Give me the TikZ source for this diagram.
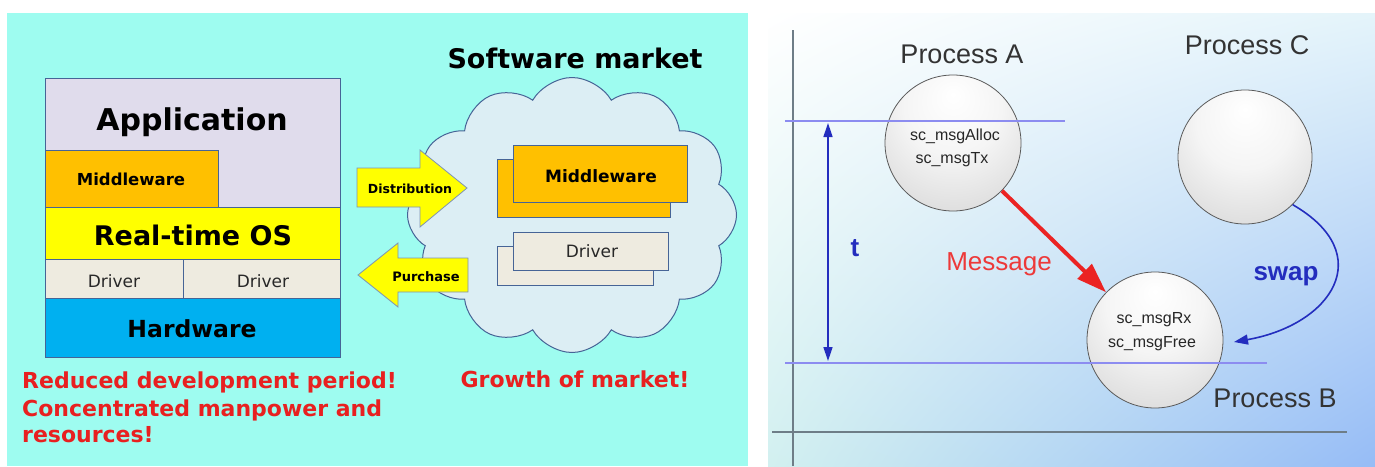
\documentclass[tikz,border=0pt]{standalone}
\usepackage{fontspec}
\usetikzlibrary{shapes.symbols,arrows.meta,shadings}
\newfontfamily\djv{DejaVu Sans}
\newfontfamily\lib{Liberation Sans}
\newcommand\fsz[1]{\fontsize{#1}{#1}\selectfont}
\definecolor{panelcyan}{RGB}{158,252,240}
\definecolor{appcol}{RGB}{224,220,236}
\definecolor{mwcol}{RGB}{255,192,0}
\definecolor{oscol}{RGB}{255,255,0}
\definecolor{drvcol}{RGB}{238,235,224}
\definecolor{hwcol}{RGB}{0,176,240}
\definecolor{edgecol}{RGB}{70,100,150}
\definecolor{cloudfill}{RGB}{220,238,244}
\definecolor{redtxt}{RGB}{232,32,32}
\definecolor{axisgray}{RGB}{110,125,135}
\definecolor{tblue}{RGB}{35,45,190}
\definecolor{lineblue}{RGB}{140,140,240}
\definecolor{msgred}{RGB}{235,35,35}
\definecolor{shul}{RGB}{255,255,255}
\definecolor{shur}{RGB}{228,244,250}
\definecolor{shll}{RGB}{210,240,240}
\definecolor{shlr}{RGB}{150,188,246}
\definecolor{txtgray}{RGB}{40,40,40}
\pgfdeclareradialshading{spheresh}{\pgfpoint{0bp}{18bp}}{color(0bp)=(white);color(18bp)=(white!96!black);color(48bp)=(black!20);color(70bp)=(black!42)}
\begin{document}
\begin{tikzpicture}[x=1pt,y=-1pt,
  lbl/.style={inner sep=0pt, anchor=base},
  stackbox/.style={draw=edgecol, line width=1pt},
  arrowbox/.style={draw=edgecol!70, line width=0.8pt, fill=oscol},
  bigbold/.style={font=\djv\bfseries\fsz{#1}},
  smallreg/.style={font=\djv\fsz{#1}, text=txtgray},
  redline/.style={lbl, anchor=base west, font=\djv\bfseries\fsz{22}, text=redtxt},
  procl/.style={lbl, font=\lib\fsz{27}, text=black!80},
  insidel/.style={lbl, font=\lib\fsz{16}, text=black!85},
  spherenode/.style={circle, draw=black!65, line width=0.8pt, shading=spheresh, minimum size=#1, inner sep=0pt},
  hline/.style={lineblue, line width=1.5pt},
  axisline/.style={axisgray, line width=1.5pt}
]
\useasboundingbox (0,0) rectangle (1375,466);
\fill[white] (0,0) rectangle (1375,466);
% ---------- left panel ----------
\fill[panelcyan] (7,13) rectangle (748,466);
\draw[stackbox, fill=appcol] (45,78) rectangle (340,207);
\draw[stackbox, fill=mwcol] (45,150) rectangle (218,207);
\draw[stackbox, fill=oscol] (45,207) rectangle (340,259);
\draw[stackbox, fill=drvcol] (45,259) rectangle (183,298);
\draw[stackbox, fill=drvcol] (183,259) rectangle (340,298);
\draw[stackbox, fill=hwcol] (45,298) rectangle (340,357);
\node[lbl, bigbold=30] (app) at (192,130) {Application};
\node[lbl, bigbold=16.5] (mw1) at (131,185) {Middleware};
\node[lbl, bigbold=27] (rtos) at (193,245) {Real-time OS};
\node[lbl, smallreg=17] (drv1) at (114,287) {Driver};
\node[lbl, smallreg=17] (drv2) at (263,287) {Driver};
\node[lbl, bigbold=23.5] (hw) at (192,337) {Hardware};
% cloud
\node[cloud, cloud puffs=12, cloud puff arc=120, aspect=1.2, draw=edgecol, line width=1pt, fill=cloudfill, minimum width=329pt, minimum height=275pt, inner sep=0pt] (cloud) at (572,215) {};
\node[lbl, bigbold=27] (swm) at (575,68) {Software market};
\draw[stackbox, fill=mwcol] (497,159) rectangle (670,217);
\draw[stackbox, fill=mwcol] (513,145) rectangle (687,202);
\node[lbl, bigbold=17] (mw2) at (601,182) {Middleware};
\draw[stackbox, fill=drvcol] (497,246) rectangle (653,285);
\draw[stackbox, fill=drvcol] (513,232) rectangle (668,270);
\node[lbl, smallreg=17] (drv3) at (592,257) {Driver};
% arrows
\draw[arrowbox] (357,168) -- (420,168) -- (420,150) -- (467,188) -- (420,227) -- (420,207) -- (357,207) -- cycle;
\node[lbl, bigbold=12.5] (dist) at (410,193) {Distribution};
\draw[arrowbox] (358,275) -- (398,243) -- (398,258) -- (468,258) -- (468,292) -- (398,292) -- (398,307) -- cycle;
\node[lbl, bigbold=13] (purch) at (426,281) {Purchase};
% red texts
\node[redline] (r1) at (22,388) {Reduced development period!};
\node[redline] (r2) at (22,416) {Concentrated manpower and};
\node[redline] (r3) at (22,442) {resources!};
\node[lbl, font=\djv\bfseries\fsz{22}, text=redtxt] (growth) at (575,387) {Growth of market!};
% ---------- right panel ----------
\shade[upper left=shul, upper right=shur, lower left=shll, lower right=shlr] (768,13) rectangle (1375,466);
\draw[axisline] (793,30) -- (793,466);
\draw[axisline] (772,432) -- (1347,432);
\node[spherenode=136pt] (A) at (953,143) {};
\node[spherenode=134pt] (C) at (1245,157) {};
\node[spherenode=136pt] (B) at (1155,340) {};
\draw[hline] (785,121) -- (1065,121);
\draw[hline] (785,363) -- (1267,363);
\coordinate (ttop) at (828,123);
\coordinate (tbot) at (828,361);
\draw[tblue, line width=1.5pt, {Triangle[length=14pt,width=9pt]}-{Triangle[length=14pt,width=9pt]}] (ttop) -- (tbot);
\node[lbl, font=\lib\bfseries\fsz{26}, text=tblue] (tlab) at (855,256) {t};
\node[procl] (pA) at (962,63) {Process A};
\node[procl] (pC) at (1247,54) {Process C};
\node[procl] (pB) at (1275,407) {Process B};
\node[insidel] (a1) at (955,140) {sc\_msgAlloc};
\node[insidel] (a2) at (952,163) {sc\_msgTx};
\node[insidel] (b1) at (1154,323) {sc\_msgRx};
\node[insidel] (b2) at (1152,347) {sc\_msgFree};
\draw[msgred, line width=4pt, -{Triangle[length=30pt,width=20pt]}] (A) -- (B);
\node[lbl, font=\lib\fsz{26}, text=msgred!90!white] (msg) at (999,270) {Message};
\coordinate (swapend) at (1234,342);
\draw[tblue, line width=1.6pt, -{Triangle[length=14pt,width=10pt]}] (C.-45) to[out=-30, in=10, looseness=1.7] (swapend);
\node[lbl, font=\lib\bfseries\fsz{26}, text=tblue] (swap) at (1286,280) {swap};
\end{tikzpicture}
\end{document}
